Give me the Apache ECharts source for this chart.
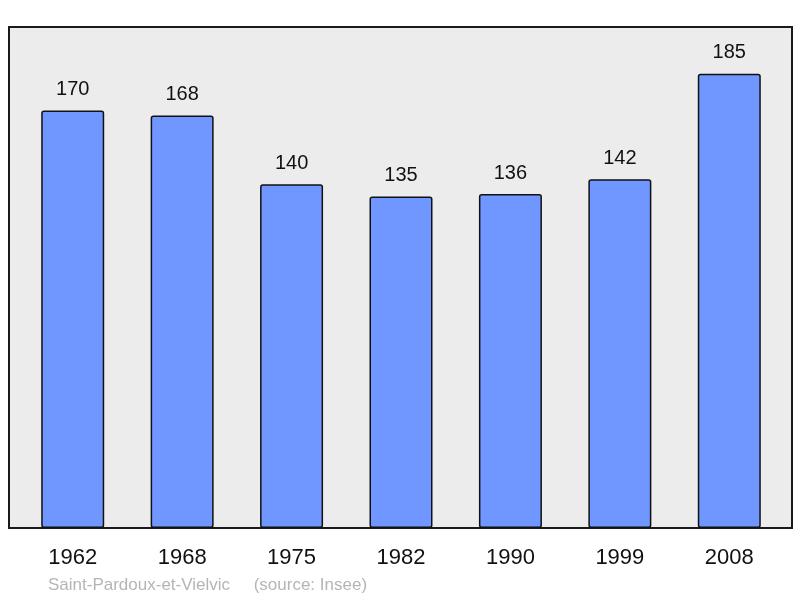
<!DOCTYPE html>
<html>
<head>
<meta charset="utf-8">
<script src="https://cdn.jsdelivr.net/npm/echarts@6/dist/echarts.min.js"></script>
<style>
  html, body { margin: 0; padding: 0; background: #fff; }
  #main { width: 800px; height: 598px; }
</style>
</head>
<body>
<div id="main"></div>
<script>
var years = ['1962', '1968', '1975', '1982', '1990', '1999', '2008'];
var population = [170, 168, 140, 135, 136, 142, 185];

var chart = echarts.init(document.getElementById('main'));
var option = {
  animation: false,
  textStyle: { fontFamily: 'Liberation Sans, Arial, sans-serif' },
  grid: [{
    // frame only
    left: 9, right: 8, top: 27, bottom: 70,
    show: true,
    backgroundColor: '#ececec',
    borderColor: '#1a1a1a',
    borderWidth: 2
  }, {
    left: 18, right: 16, top: 27, bottom: 70
  }],
  xAxis: [{
    gridIndex: 0, type: 'value', show: false
  }, {
    gridIndex: 1,
    type: 'category',
    data: years,
    axisLine: { show: false },
    axisTick: { show: false },
    axisLabel: { color: '#111', fontSize: 22, margin: 19 }
  }],
  yAxis: [{
    gridIndex: 0, type: 'value', show: false
  }, {
    gridIndex: 1,
    type: 'value',
    min: 0,
    max: 204,
    show: false,
    splitLine: { show: false }
  }],
  series: [{
    type: 'bar',
    xAxisIndex: 1,
    yAxisIndex: 1,
    data: population,
    barWidth: 63,
    itemStyle: {
      color: '#7097ff',
      borderColor: '#111',
      borderWidth: 1.5,
      borderRadius: 2
    },
    label: {
      show: true,
      position: 'top',
      distance: 11,
      color: '#111',
      fontSize: 20
    }
  }],
  graphic: [{
    type: 'text',
    left: 48,
    top: 577,
    style: {
      text: 'Saint-Pardoux-et-Vielvic     (source: Insee)',
      fill: '#b5b5b5',
      fontSize: 17,
      fontFamily: 'Liberation Sans, Arial, sans-serif'
    }
  }]
};
chart.setOption(option);
</script>
</body>
</html>
